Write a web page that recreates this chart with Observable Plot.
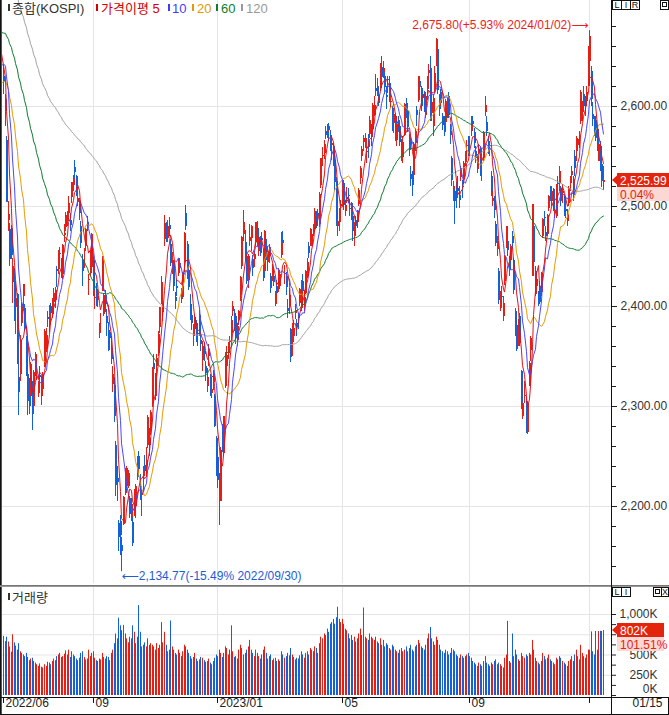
<!DOCTYPE html>
<html><head><meta charset="utf-8">
<script src="https://cdn.jsdelivr.net/npm/d3@7"></script>
<script src="https://cdn.jsdelivr.net/npm/@observablehq/plot@0.6"></script>
<style>
body{margin:0;background:#fff;}
#wrap{position:relative;width:669px;height:715px;overflow:hidden;background:#fff;}
#wrap svg{position:absolute;left:0;}
</style></head><body><div id="wrap"></div>
<script>
// closes before the first visible day (2021/12/13 .. 2022/06/08), used only for moving averages
const preClose = [3001,2987,2989,3006,3017,2963,2984,2984,2998,3012,3020,3020,2993,2977,
2989,2989,2953,2920,2954,2927,2927,2972,2962,2921,2890,2864,2842,2862,2834,2792,2720,2709,2614,2663,
2707,2750,2745,2747,2768,2771,2747,2704,2676,2729,2744,2744,2743,2706,2719,2648,2676,2699,
2703,2747,2713,2651,2622,2680,2661,2645,2621,2659,2694,2707,2686,2729,2735,2729,2729,2729,2741,2746,2757,
2739,2757,2759,2735,2695,2700,2693,2666,2716,2716,2696,2693,2718,2718,2728,2704,2657,2668,2639,2667,2695,
2687,2680,2677,2644,2610,2596,2592,2550,2604,2596,2620,2625,2592,2639,2647,2605,2617,2612,2638,2669,2685,
2658,2670,2626,2626];

// daily candles 2022/06/09 .. 2024/01/15
const open = [2630,2607,2566,2486,2477,2478,2424,2425,2399,2412,2329,2332,2383,2410,2398,2366,
2332,2312,2310,2320,2300,2345,2340,2313,2331,2310,2317,2340,2357,2389,2381,2400,2392,2404,2406,2437,2437,
2453,2444,2432,2471,2479,2485,2493,2486,2509,2521,2539,2530,2504,2505,2480,2446,2447,2460,2484,2426,2437,2439,
2446,2408,2415,2406,2376,2384,2415,2392,2411,2390,2375,2374,2358,2322,2321,2261,2228,2183,2185,2161,
2182,2229,2220,2220,2208,2189,2184,2198,2200,2233,2250,2220,2211,2230,2241,2240,2261,2261,2276,
2303,2343,2310,2340,2353,2379,2403,2394,2467,2479,2468,2481,2462,2440,2444,2409,2420,2433,2443,2415,2409,2444,
2493,2462,2436,2402,2391,2371,2377,2383,2373,2391,2366,2346,2355,2340,2320,2350,2329,2313,2324,2310,2268,
2249,2230,2205,2268,2253,2320,2340,2353,2364,2373,2395,2393,2390,2366,2387,2411,2440,2472,2464,2450,
2426,2465,2468,2447,2447,2464,2478,2455,2465,2468,2456,2435,2456,2444,2450,2430,2430,2430,2402,2420,
2418,2420,2451,2466,2432,2430,2398,2400,2377,2365,2370,2393,2383,2390,2403,2398,2425,2400,2413,2430,2460,2466,
2461,2478,2477,2493,2493,2482,2521,2550,2553,2575,2574,2580,2571,2561,2560,2546,2525,2480,2484,2500,
2507,2523,2495,2507,2511,2498,2503,2490,2470,2486,2484,2502,2528,2550,2564,2561,2554,2565,2572,2580,
2577,2591,2618,2620,2611,2618,2639,2634,2630,2611,2627,2623,2604,2598,2583,2586,2566,2586,2580,2563,2549,
2571,2603,2595,2568,2532,2533,2531,2563,2596,2606,2625,2615,2612,2612,2591,2617,2633,2638,2593,2580,2617,
2643,2657,2600,2614,2590,2582,2584,2593,2610,2575,2548,2517,2515,2511,2518,2511,2529,2520,2527,2544,2560,2565,
2564,2575,2585,2574,2555,2537,2553,2557,2535,2548,2594,2584,2565,2561,2530,2505,2506,2482,2457,
2435,2398,2410,2390,2425,2461,2465,2445,2446,2470,2446,2395,2381,2364,2390,2335,2290,2310,2305,
2274,2321,2356,2430,2480,2435,2420,2412,2420,2414,2470,2489,2474,2472,2498,2515,2505,2517,2493,2490,2523,2523,
2517,2513,2510,2497,2485,2503,2524,2531,2527,2550,2558,2561,2569,2585,2594,2612,2600,2605,2620,
2645,2635,2592,2588,2586,2577,2545,2560,2542,2524];
const high = [2641,2612,2570,2505,2483,2481,2448,2438,2418,2413,2343,2371,2404,2422,2402,2370,
2346,2328,2344,2325,2336,2354,2352,2325,2340,2330,2334,2377,2378,2395,2401,2403,2408,2418,2419,2440,2456,
2459,2448,2462,2482,2494,2495,2510,2493,2524,2531,2546,2531,2516,2508,2485,2452,2458,2478,2490,2432,2456,2473,
2449,2418,2423,2417,2383,2393,2450,2413,2416,2397,2384,2376,2370,2340,2329,2265,2240,2186,2191,2169,
2210,2238,2240,2236,2210,2208,2191,2217,2222,2250,2255,2232,2220,2240,2251,2259,2291,2278,2296,
2339,2352,2333,2352,2375,2399,2430,2404,2491,2484,2486,2489,2467,2454,2446,2414,2427,2447,2448,2418,2434,2474,
2501,2465,2445,2412,2399,2382,2392,2386,2379,2396,2375,2365,2364,2345,2338,2362,2332,2325,2336,2312,2270,
2259,2233,2259,2282,2290,2354,2360,2364,2370,2390,2405,2397,2393,2383,2396,2430,2470,2496,2476,2458,
2452,2482,2481,2451,2455,2484,2485,2472,2470,2474,2457,2476,2467,2460,2462,2433,2442,2437,2415,2426,
2438,2436,2474,2475,2441,2434,2407,2418,2378,2383,2386,2402,2387,2393,2418,2426,2432,2416,2436,2448,2464,2478,
2476,2482,2498,2495,2497,2514,2548,2559,2566,2580,2582,2583,2576,2567,2563,2550,2529,2492,2498,2506,
2527,2525,2506,2519,2518,2507,2504,2493,2484,2490,2496,2518,2540,2560,2571,2573,2568,2572,2590,2582,
2603,2610,2632,2628,2620,2643,2650,2645,2636,2620,2630,2630,2615,2600,2595,2593,2590,2590,2584,2567,2570,
2603,2608,2597,2572,2540,2535,2564,2578,2600,2630,2630,2620,2618,2615,2614,2630,2642,2650,2610,2612,2640,
2668,2660,2612,2617,2593,2590,2607,2608,2614,2582,2550,2525,2520,2524,2530,2520,2540,2526,2545,2555,2566,2570,
2570,2590,2590,2578,2560,2552,2562,2560,2541,2575,2610,2590,2570,2565,2535,2518,2510,2485,2470,
2438,2415,2420,2410,2451,2480,2468,2450,2462,2475,2448,2398,2386,2387,2393,2336,2311,2325,2310,
2304,2345,2370,2502,2484,2440,2430,2415,2425,2434,2488,2495,2480,2492,2511,2520,2520,2518,2503,2522,2530,2540,
2520,2522,2512,2505,2497,2520,2530,2540,2530,2556,2570,2568,2575,2616,2605,2620,2610,2620,2660,
2675.8,2640,2604,2590,2590,2580,2565,2565,2550,2540];
const low = [2612,2580,2504,2475,2440,2447,2403,2385,2372,2342,2291,2325,2380,2395,2375,2330,
2291,2292,2307,2276,2294,2330,2326,2309,2318,2301,2310,2339,2354,2379,2374,2385,2388,2396,2398,2419,2432,
2437,2428,2427,2464,2475,2480,2487,2475,2503,2515,2527,2510,2500,2486,2458,2420,2438,2455,2475,2411,2430,2433,
2410,2397,2400,2399,2368,2373,2415,2390,2394,2370,2355,2357,2342,2314,2284,2210,2205,2155,2151,2134.77,
2181,2211,2213,2218,2188,2185,2160,2190,2188,2226,2229,2206,2190,2214,2232,2230,2258,2250,2271,
2299,2326,2306,2324,2350,2373,2402,2385,2460,2464,2464,2470,2440,2432,2415,2397,2410,2430,2434,2403,2407,2434,
2476,2427,2416,2386,2376,2360,2370,2364,2360,2370,2355,2335,2345,2325,2314,2340,2310,2308,2316,2279,2230,
2218,2181,2205,2254,2250,2318,2335,2347,2353,2365,2390,2375,2362,2360,2381,2405,2437,2465,2445,2422,
2418,2460,2455,2430,2439,2460,2460,2450,2450,2455,2425,2435,2446,2435,2443,2413,2425,2420,2400,2405,
2414,2417,2448,2457,2422,2411,2388,2392,2344,2350,2364,2387,2370,2377,2400,2395,2410,2395,2412,2428,2448,2460,
2460,2470,2474,2478,2480,2479,2518,2540,2547,2567,2568,2565,2555,2546,2540,2515,2480,2470,2475,2485,
2500,2496,2490,2503,2503,2490,2486,2465,2460,2474,2478,2500,2522,2545,2555,2558,2543,2548,2568,2560,
2569,2590,2610,2610,2600,2615,2620,2628,2612,2597,2613,2604,2598,2575,2573,2565,2560,2574,2560,2545,2543,
2570,2588,2574,2550,2520,2510,2528,2555,2580,2604,2612,2595,2600,2594,2588,2606,2625,2585,2585,2570,2613,
2640,2612,2590,2597,2576,2570,2580,2588,2588,2562,2520,2505,2482,2498,2508,2498,2525,2508,2522,2540,2550,2550,
2550,2570,2575,2558,2543,2533,2545,2530,2525,2545,2590,2570,2552,2550,2510,2500,2488,2460,2450,
2402,2395,2400,2385,2421,2458,2450,2430,2440,2458,2412,2370,2355,2360,2360,2297,2287,2303,2273,
2272,2320,2345,2430,2440,2410,2412,2400,2402,2410,2468,2480,2465,2470,2495,2505,2500,2495,2488,2488,2510,2515,
2500,2503,2490,2488,2480,2500,2515,2523,2505,2530,2545,2555,2558,2582,2585,2595,2590,2600,2620,
2645,2600,2580,2570,2565,2555,2545,2535,2519,2516];
const close = [2625,2595,2504,2492,2447,2451,2440,2391,2408,2342,2314,2366,2402,2422,2378,2333,
2305,2300,2342,2292,2334,2351,2340,2318,2329,2322,2331,2375,2371,2387,2395,2393,2404,2413,2416,2435,2452,
2452,2440,2461,2473,2491,2493,2503,2481,2524,2528,2534,2516,2508,2493,2463,2435,2447,2477,2481,2427,2451,2472,
2416,2409,2404,2410,2376,2384,2450,2411,2402,2383,2356,2368,2347,2332,2290,2221,2224,2169,2171,2155,
2209,2215,2238,2233,2192,2202,2163,2213,2220,2250,2237,2218,2213,2236,2235,2246,2289,2268,2294,
2335,2337,2329,2348,2372,2399,2424,2402,2483,2475,2480,2477,2443,2444,2420,2405,2418,2441,2438,2408,2433,2473,
2480,2434,2419,2393,2383,2371,2389,2371,2372,2373,2362,2360,2352,2333,2329,2357,2314,2317,2333,2280,2236,
2226,2219,2256,2265,2290,2350,2351,2360,2365,2386,2400,2379,2368,2380,2395,2429,2469,2484,2450,2425,
2450,2469,2480,2438,2452,2484,2469,2469,2453,2466,2428,2475,2451,2455,2459,2418,2439,2424,2413,2413,
2433,2432,2463,2463,2432,2419,2395,2411,2349,2380,2378,2396,2379,2388,2417,2424,2415,2409,2435,2444,2453,2477,
2472,2480,2495,2490,2490,2512,2548,2551,2562,2571,2576,2576,2563,2563,2544,2524,2489,2485,2496,2502,
2526,2501,2501,2509,2510,2497,2491,2475,2479,2480,2495,2516,2538,2557,2568,2567,2555,2559,2586,2577,
2601,2601,2615,2616,2603,2641,2629,2638,2619,2609,2626,2610,2605,2583,2592,2570,2582,2581,2564,2550,2564,
2602,2593,2579,2556,2527,2521,2562,2575,2591,2628,2619,2608,2608,2600,2610,2628,2636,2592,2604,2608,2633,
2667,2616,2605,2603,2581,2574,2605,2602,2591,2571,2526,2520,2505,2509,2515,2506,2538,2519,2543,2552,2561,2556,
2564,2585,2582,2563,2548,2548,2557,2537,2535,2573,2601,2575,2559,2560,2515,2508,2496,2463,2465,
2406,2404,2409,2403,2450,2480,2456,2436,2460,2463,2416,2375,2357,2384,2363,2299,2303,2311,2278,
2302,2343,2368,2502,2444,2422,2427,2410,2404,2433,2487,2488,2470,2491,2510,2512,2515,2497,2496,2522,2522,2535,
2505,2515,2494,2495,2492,2518,2525,2535,2511,2538,2564,2567,2569,2614,2600,2600,2603,2614,2655,
2670,2607,2587,2578,2568,2561,2562,2541,2525.05,2525.99];
// volume, thousand shares
const volume = [730,665,720,660,600,535,750,650,610,560,640,540,520,500,480,520,
470,430,450,460,420,400,380,360,390,350,340,380,360,410,400,380,420,450,430,480,500,
520,470,480,510,550,500,560,470,540,500,480,450,430,460,520,540,470,440,450,560,480,520,
540,460,430,420,450,440,520,470,450,480,470,430,520,560,640,760,700,955,860,800,
865,760,700,650,720,700,860,780,640,720,1110,780,600,620,650,600,700,620,640,
620,600,560,640,580,620,900,650,780,620,540,560,920,600,560,520,500,560,520,480,540,620,
600,560,520,480,450,470,520,450,420,440,470,460,430,410,420,450,400,380,420,460,500,
480,560,520,470,520,600,580,500,560,860,540,470,480,450,560,620,580,500,520,560,
600,680,560,520,480,560,520,480,450,500,560,600,520,450,480,500,430,450,460,420,
440,420,540,500,460,480,520,490,580,500,470,440,460,450,490,540,500,460,520,540,500,580,
560,540,600,580,520,640,720,700,760,740,820,780,880,900,940,880,960,1090,940,900,
940,880,820,800,760,700,740,680,720,660,700,760,820,740,1080,720,700,680,760,720,
700,680,720,660,640,700,620,680,600,640,620,580,560,620,600,560,540,520,560,580,540,
560,600,540,580,620,560,540,600,620,680,640,600,580,560,620,700,760,840,700,660,620,
720,680,620,560,540,520,560,540,500,520,580,560,540,500,480,460,500,480,460,480,500,520,
480,460,420,400,380,360,400,380,360,420,480,400,380,360,400,380,420,440,380,
400,380,360,340,460,500,915,420,400,760,480,560,500,440,420,520,480,460,500,
480,520,500,680,560,460,420,400,380,420,520,480,440,460,500,440,420,400,380,460,440,480,
460,420,400,380,360,420,440,480,420,500,560,480,440,620,520,480,460,500,560,
560,785,540,500,790,560,790,792,790.1,802];

// month boundaries (day index) and their labels
const monthIdx = [0, 59, 141, 223, 307, 386];
const monthLabel = ["2022/06", "09", "2023/01", "05", "09", ""];
const priceMajor = [2200, 2300, 2400, 2500, 2600];
const priceMinor = d3.range(2140, 2701, 20);
const volLabels = [0, 250, 500, 1000];
const maDefs = [[120, "#a3a3a3"], [60, "#0b7d2e"], [20, "#e89a00"], [10, "#4848ff"], [5, "#e3121a"]];

const N = close.length;
const UP = "#e61e14", DOWN = "#1460d8";
const days = close.map((c, i) => ({i, o: open[i], h: high[i], l: low[i], c, v: volume[i]}));
const series = preClose.map((c, k) => ({i: k - preClose.length, c})).concat(days.map(d => ({i: d.i, c: d.c})));
const col = d => d.c >= d.o ? UP : DOWN;
const months = monthIdx.map((i, k) => ({i, label: monthLabel[k]}));
const lastC = close[N - 1];
const FONT = '"Liberation Sans", "Noto Sans CJK KR", "DejaVu Sans", sans-serif';
const xOpt = {domain: [0, N - 1], range: [3, 603], round: true, axis: null, label: null};
const fmt2 = d3.format(",.2f");

const hiIdx = d3.maxIndex(high), loIdx = d3.minIndex(low);
const pct = v => (v >= lastC ? "+" : "") + ((v / lastC - 1) * 100).toFixed(2) + "%";
const dstr = i => i === hiIdx ? "2024/01/02" : "2022/09/30";

const price = Plot.plot({
  width: 669, height: 585, marginLeft: 2, marginRight: 58, marginTop: 0, marginBottom: 2,
  style: {background: "transparent", color: "#333", fontFamily: FONT, fontSize: "12px", overflow: "visible"},
  x: xOpt,
  y: {domain: [2123, 2706], range: [583, 0], axis: null, label: null},
  marks: [
    Plot.ruleY(priceMajor, {stroke: "#e5e5e5"}),
    Plot.ruleX(monthIdx.slice(1), {stroke: "#e5e5e5"}),
    Plot.ruleX(days, {x: "i", y1: "l", y2: "h", stroke: col, strokeWidth: 1}),
    Plot.ruleX(days, {x: "i", y1: "o", y2: "c", stroke: col, strokeWidth: 2, dx: 0.5}),
    ...maDefs.map(([k, c]) => Plot.lineY(series, Plot.windowY({k, anchor: "end", reduce: "mean"}, {x: "i", y: "c", stroke: c, strokeWidth: 1, clip: true}))),
    Plot.axisY(priceMinor, {anchor: "right", tickSize: 4, tickFormat: () => "", stroke: "#222"}),
    Plot.axisY(priceMajor, {anchor: "right", tickSize: 5, tickPadding: 4, tickFormat: fmt2, stroke: "#222", fill: "#333"}),
    Plot.text([{i: hiIdx, v: high[hiIdx]}], {x: "i", y: "v", text: d => `${fmt2(d.v)}(${pct(d.v)} ${dstr(d.i)})⟶`, textAnchor: "end", dx: -1, dy: -6, fill: "#f01c1c", fontSize: 12}),
    Plot.text([{i: loIdx, v: low[loIdx]}], {x: "i", y: "v", text: d => `⟵${fmt2(d.v)}(${pct(d.v)} ${dstr(d.i)})`, textAnchor: "start", dx: 0, dy: 4, fill: "#1c5cd6", fontSize: 12})
  ]
});
price.style.top = "0px";

const vol = Plot.plot({
  width: 669, height: 130, marginLeft: 2, marginRight: 58, marginTop: 2, marginBottom: 18,
  style: {background: "transparent", color: "#333", fontFamily: FONT, fontSize: "12px", overflow: "visible"},
  x: xOpt,
  y: {domain: [0, 1000], range: [110, 29], axis: null, label: null},
  marks: [
    Plot.ruleY([250, 500, 750, 1000], {stroke: "#e5e5e5"}),
    Plot.ruleX(monthIdx.slice(1), {stroke: "#e5e5e5"}),
    Plot.ruleX(days, {x: "i", y1: 0, y2: "v", stroke: col, strokeWidth: 1}),
    Plot.axisY(d3.range(0, 1001, 125), {anchor: "right", tickSize: 4, tickFormat: () => "", stroke: "#222"}),
    Plot.text(volLabels.filter(d => d > 0), {y: d => d, text: d => d3.format(",")(d) + "K", frameAnchor: "right", dx: 46, textAnchor: "end", fill: "#333"}),
    Plot.text([0], {y: d => d, text: d => d + "K", frameAnchor: "right", dx: 46, dy: -6, textAnchor: "end", fill: "#333"}),
    Plot.ruleX(months, {x: "i", y1: -25, y2: -98, stroke: "#111"}),
    Plot.text(months, {x: "i", text: "label", frameAnchor: "bottom", dy: 9, dx: 2, textAnchor: "start", fill: "#222"}),
    Plot.text([N - 1], {text: () => "01/15", frameAnchor: "bottom-right", dx: 21, dy: 9, textAnchor: "start", fill: "#222"})
  ]
});
vol.style.top = "585px";

const wrap = document.getElementById("wrap");
wrap.appendChild(price);
wrap.appendChild(vol);

// chrome overlay: borders, legend, value boxes
const yP = price.scale("y").apply(lastC);
const yV = 585 + vol.scale("y").apply(volume[N - 1]);
const chg = ((lastC / close[N - 2] - 1) * 100).toFixed(2) + "%";
const vr = (volume[N - 1] / volume[N - 2] * 100).toFixed(2) + "%";
const ov = d3.select(wrap).append("svg").attr("width", 669).attr("height", 715).style("top", "0px")
  .style("font-family", FONT).style("font-size", "12px");
const line = (x1, y1, x2, y2, c, w = 1) => ov.append("line").attr("x1", x1).attr("y1", y1).attr("x2", x2).attr("y2", y2).attr("stroke", c).attr("stroke-width", w);
line(0.5, 0, 0.5, 715, "#111");
line(1.5, 0, 1.5, 715, "#555");
line(0, 585.5, 669, 585.5, "#777");
line(0, 586.5, 669, 586.5, "#999");
line(611.5, 0, 611.5, 715, "#111");
line(0, 697.5, 669, 697.5, "#111");
line(0, 714.5, 669, 714.5, "#111");
line(668.5, 697, 668.5, 715, "#111");

// legend
const leg = [
  {x: 8, mark: "#333", tx: 12, t: "종합(KOSPI)", c: "#333"},
  {x: 96, mark: "#d40000", tx: 101, t: "가격이평 5", c: "#d40000"},
  {x: 168, mark: "#3c3cff", tx: 172, t: "10", c: "#3c3cff"},
  {x: 192, mark: "#e29a00", tx: 197, t: "20", c: "#e29a00"},
  {x: 216, mark: "#0b7d2e", tx: 221, t: "60", c: "#0b7d2e"},
  {x: 241, mark: "#999", tx: 246, t: "120", c: "#999"}
];
leg.forEach(d => {
  ov.append("rect").attr("x", d.x).attr("y", 4).attr("width", 2).attr("height", 7).attr("fill", d.mark);
  ov.append("text").attr("x", d.tx).attr("y", 12.5).attr("font-size", 13).attr("fill", d.c).text(d.t);
});
ov.append("rect").attr("x", 8).attr("y", 593).attr("width", 2).attr("height", 7).attr("fill", "#333");
ov.append("text").attr("x", 12).attr("y", 601.5).attr("font-size", 13).attr("fill", "#333").text("거래량");

// small panel buttons
const btn = (x, y, w, h, t) => {
  ov.append("rect").attr("x", x + 0.5).attr("y", y + 0.5).attr("width", w).attr("height", h).attr("fill", "#fff").attr("stroke", "#111");
  if (t) ov.append("text").attr("x", x + w / 2 + 0.5).attr("y", y + h - 1).attr("text-anchor", "middle").attr("font-size", 9).attr("fill", "#111").text(t);
};
btn(612, 0, 9, 9, "L"); btn(621, 0, 9, 9, "I"); btn(630, 0, 9, 9, "R");
btn(660, 0, 8, 9, ""); ov.append("rect").attr("x", 662.5).attr("y", 2.5).attr("width", 4).attr("height", 4).attr("fill", "none").attr("stroke", "#111");
btn(612, 587, 9, 9, "L"); btn(621, 587, 9, 9, "I");
btn(653, 587, 8, 9, ""); ov.append("rect").attr("x", 655.5).attr("y", 589.5).attr("width", 4).attr("height", 4).attr("fill", "none").attr("stroke", "#111");
btn(661, 587, 7, 9, "X");

// current price / volume boxes
const box = (y, w, main, sub) => {
  ov.append("path").attr("d", `M612,${y} L617.5,${y - 5} L617.5,${y + 5} Z`).attr("fill", "#e4250e");
  ov.append("rect").attr("x", 617).attr("y", y - 7).attr("width", w).attr("height", 14).attr("fill", "#e4250e");
  ov.append("text").attr("x", 620).attr("y", y + 4.5).attr("fill", "#fff").text(main);
  ov.append("rect").attr("x", 617).attr("y", y + 7).attr("width", w).attr("height", 14).attr("fill", "#fbd8d3");
  ov.append("text").attr("x", 620).attr("y", y + 18.5).attr("fill", "#e4250e").text(sub);
};
box(Math.round(yP), 52, fmt2(lastC), chg);
box(Math.round(yV), 47, d3.format(",")(volume[N - 1]) + "K", vr);
</script></body></html>
